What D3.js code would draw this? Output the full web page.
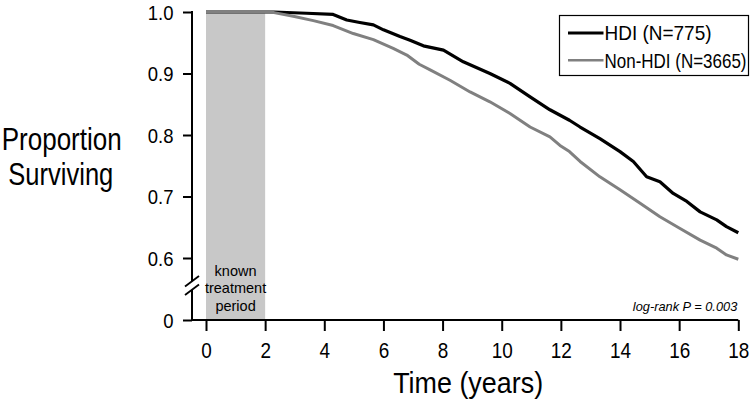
<!DOCTYPE html>
<html>
<head>
<meta charset="utf-8">
<script src="https://cdn.jsdelivr.net/npm/d3@7"></script>
<style>
  html, body { margin: 0; padding: 0; background: #fff; }
  svg { display: block; }
  text { font-family: "Liberation Sans", Arial, Helvetica, sans-serif; fill: #000; }
</style>
</head>
<body>
<svg id="chart" width="750" height="403"></svg>
<script>
// ---- data ----
const hdiTime = [0, 2, 2.3, 3.4, 4.3, 4.76, 5.2, 5.66, 6.0, 6.56, 6.9, 7.35, 8.03, 8.7, 9.6, 10.28, 10.96, 11.63, 12.29, 12.65, 13.32, 14.0, 14.45, 14.9, 15.35, 15.8, 16.26, 16.71, 17.27, 17.6, 18];
const hdiSurv = [1, 1, 1, 0.998, 0.996, 0.987, 0.983, 0.979, 0.971, 0.960, 0.954, 0.945, 0.938, 0.919, 0.900, 0.884, 0.862, 0.841, 0.824, 0.813, 0.794, 0.773, 0.757, 0.732, 0.724, 0.705, 0.692, 0.675, 0.662, 0.651, 0.641];
const nonTime = [0, 2, 2.3, 2.95, 3.63, 4.3, 4.98, 5.66, 6.33, 6.79, 7.21, 7.58, 8.25, 8.93, 9.6, 10.28, 10.96, 11.63, 11.97, 12.29, 12.65, 13.32, 14.0, 14.68, 15.35, 16.03, 16.71, 17.27, 17.6, 18];
const nonSurv = [1, 1, 0.999, 0.993, 0.986, 0.978, 0.965, 0.955, 0.941, 0.930, 0.915, 0.906, 0.889, 0.870, 0.854, 0.835, 0.813, 0.797, 0.783, 0.773, 0.757, 0.732, 0.711, 0.689, 0.667, 0.648, 0.629, 0.616, 0.605, 0.598];
const seriesNames = ["HDI (N=775)", "Non-HDI (N=3665)"];
const xTicks = [0, 2, 4, 6, 8, 10, 12, 14, 16, 18];
const yTicks = [0, 0.6, 0.7, 0.8, 0.9, 1.0];
const yTickLabels = ["0", "0.6", "0.7", "0.8", "0.9", "1.0"];
const treatmentPeriod = [0, 2];
const treatmentLabel = ["known", "treatment", "period"];
const pLabel = "log-rank P = 0.003";
const breakValue = 0.55;

// ---- layout ----
const svg = d3.select("#chart");
const axisX = 192;        // y-axis position
const plotLeft = 206, plotRight = 738.3;
const yTop = 12, yBottom = 320;

const x = d3.scaleLinear().domain([0, 18]).range([plotLeft, plotRight]);
// broken axis: 0 at the bottom, 0.55..1.0 linear
const y = d3.scaleLinear().domain([0, breakValue, 1]).range([yBottom, yTop + (1 - breakValue) * 615, yTop]);

function condense(sel, f) {
  sel.each(function () {
    const w = this.getComputedTextLength();
    d3.select(this).attr("textLength", w * f).attr("lengthAdjust", "spacingAndGlyphs");
  });
}

// shaded treatment period
svg.append("rect")
  .attr("x", x(treatmentPeriod[0]))
  .attr("y", y(1))
  .attr("width", x(treatmentPeriod[1]) - x(treatmentPeriod[0]))
  .attr("height", y(0) - y(1) - 1)
  .attr("fill", "#c8c8c8");

const tl = svg.append("text")
  .attr("text-anchor", "middle")
  .attr("font-size", 14.5);
treatmentLabel.forEach((t, i) => {
  tl.append("tspan")
    .attr("x", (x(treatmentPeriod[0]) + x(treatmentPeriod[1])) / 2)
    .attr("y", 276 + i * 17.4)
    .text(t);
});

// x axis
const xAxis = svg.append("g")
  .attr("transform", `translate(0,${yBottom})`)
  .call(d3.axisBottom(x).tickValues(xTicks).tickSize(11).tickSizeOuter(0).tickFormat(d3.format("d")));
xAxis.select(".domain").remove();
xAxis.selectAll(".tick line").attr("stroke", "#000").attr("stroke-width", 2);
xAxis.selectAll(".tick text")
  .attr("y", 38).attr("dy", 0)
  .attr("font-size", 22)
  .attr("font-family", "Liberation Sans, Arial, sans-serif")
  .attr("fill", "#000")
  .call(condense, 0.86);
svg.append("line")
  .attr("x1", axisX).attr("x2", x(18))
  .attr("y1", yBottom).attr("y2", yBottom)
  .attr("stroke", "#000").attr("stroke-width", 2);

// y axis
const yAxis = svg.append("g")
  .attr("transform", `translate(${axisX},0)`)
  .call(d3.axisLeft(y).tickValues(yTicks).tickSize(9).tickSizeOuter(0)
    .tickFormat((d, i) => yTickLabels[i]));
yAxis.select(".domain").remove();
yAxis.selectAll(".tick line").attr("stroke", "#000").attr("stroke-width", 2);
yAxis.selectAll(".tick text")
  .attr("x", -18.5).attr("dy", "0.35em")
  .attr("font-size", 21)
  .attr("font-family", "Liberation Sans, Arial, sans-serif")
  .attr("fill", "#000")
  .call(condense, 0.88);

// axis segments with break
svg.append("line")
  .attr("x1", axisX).attr("x2", axisX)
  .attr("y1", y(1) - 1).attr("y2", yBottom - 39)
  .attr("stroke", "#000").attr("stroke-width", 2);
svg.append("line")
  .attr("x1", axisX).attr("x2", axisX)
  .attr("y1", yBottom - 30).attr("y2", yBottom + 1)
  .attr("stroke", "#000").attr("stroke-width", 2);
[0, 8.5].forEach(off => {
  svg.append("line")
    .attr("x1", axisX - 7).attr("y1", yBottom - 33.5 + off)
    .attr("x2", axisX + 7).attr("y2", yBottom - 44 + off)
    .attr("stroke", "#000").attr("stroke-width", 1.8);
});

// curves
const line = d3.line().x(d => x(d[0])).y(d => y(d[1])).curve(d3.curveLinear);
const hdiData = hdiTime.map((t, i) => [t, hdiSurv[i]]);
const nonData = nonTime.map((t, i) => [t, nonSurv[i]]);
svg.append("path").datum(hdiData).attr("d", line)
  .attr("fill", "none").attr("stroke", "#000").attr("stroke-width", 3.2).attr("stroke-linejoin", "round");
svg.append("path").datum(nonData).attr("d", line)
  .attr("fill", "none").attr("stroke", "#808080").attr("stroke-width", 3).attr("stroke-linejoin", "round");

// p-value
svg.append("text")
  .attr("x", 737.3).attr("y", 310.7)
  .attr("text-anchor", "end")
  .attr("font-size", 13.5)
  .attr("font-style", "italic")
  .text(pLabel)
  .attr("textLength", 104.5).attr("lengthAdjust", "spacingAndGlyphs");

// legend
const lg = svg.append("g");
lg.append("rect")
  .attr("x", 559.5).attr("y", 15.5).attr("width", 189).attr("height", 60)
  .attr("fill", "#fff").attr("stroke", "#000").attr("stroke-width", 1.2);
const legColors = ["#000", "#808080"];
const legWidths = [107, 142];
seriesNames.forEach((name, i) => {
  const cy = 33 + i * 27.3;
  lg.append("line")
    .attr("x1", 568).attr("x2", 603.5).attr("y1", cy).attr("y2", cy)
    .attr("stroke", legColors[i]).attr("stroke-width", i === 0 ? 3 : 2.6);
  lg.append("text")
    .attr("x", 604.5).attr("y", cy + 7.3)
    .attr("font-size", 21)
    .text(name)
    .attr("textLength", legWidths[i]).attr("lengthAdjust", "spacingAndGlyphs");
});

// axis titles
svg.append("text")
  .attr("x", (plotLeft + plotRight) / 2 - 4).attr("y", 393)
  .attr("text-anchor", "middle")
  .attr("font-size", 30)
  .text("Time (years)")
  .attr("textLength", 150).attr("lengthAdjust", "spacingAndGlyphs");
const yt = svg.append("g");
yt.append("text").attr("x", 61.7).attr("y", 150).attr("text-anchor", "middle")
  .attr("font-size", 31).text("Proportion")
  .attr("textLength", 120).attr("lengthAdjust", "spacingAndGlyphs");
yt.append("text").attr("x", 60.8).attr("y", 185).attr("text-anchor", "middle")
  .attr("font-size", 31).text("Surviving")
  .attr("textLength", 105).attr("lengthAdjust", "spacingAndGlyphs");
</script>
</body>
</html>
